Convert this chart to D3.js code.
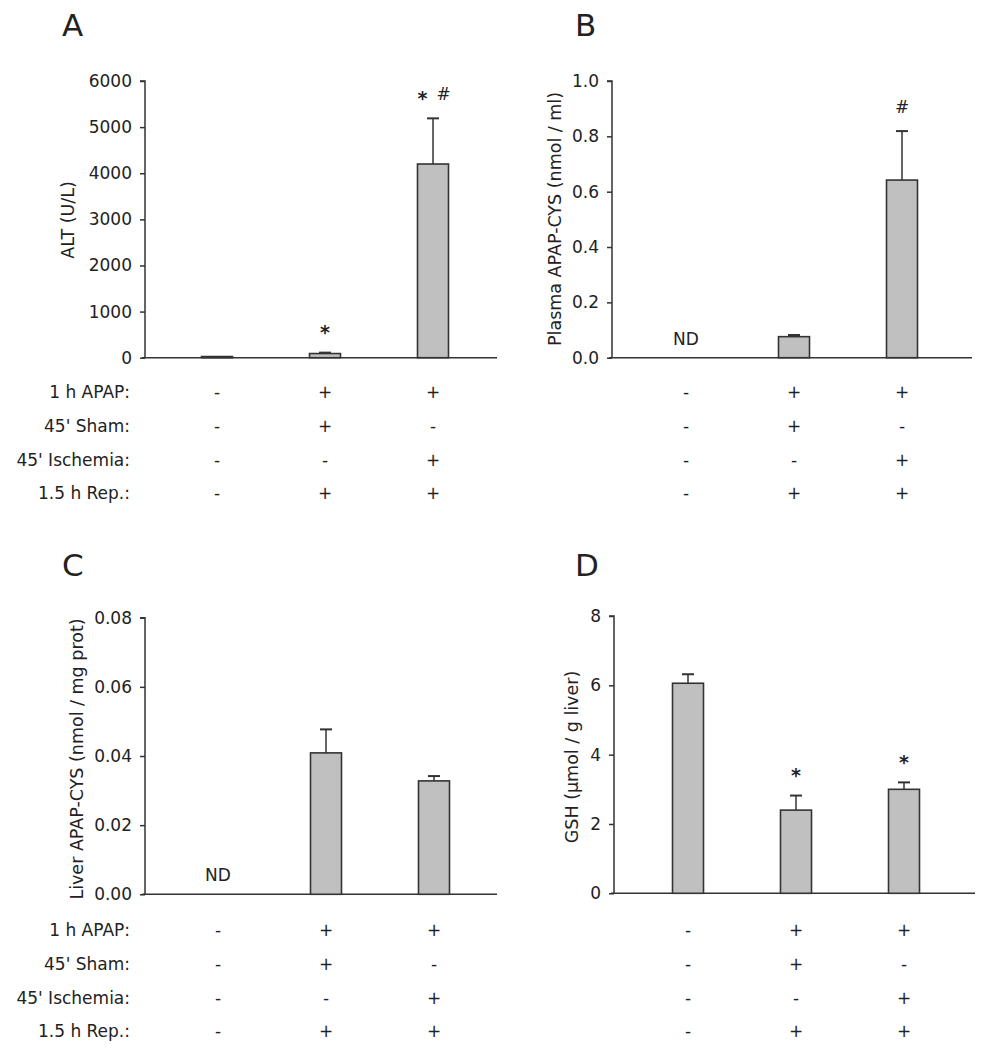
<!DOCTYPE html>
<html><head><meta charset="utf-8">
<script src="https://cdn.jsdelivr.net/npm/d3@7"></script>
<style>body{margin:0;background:#fff}svg{display:block}text{font-family:"DejaVu Sans",sans-serif;fill:#222}</style>
</head><body><svg id="c" width="991" height="1050"></svg>
<script>
const groups = ["Control", "APAP+Sham", "APAP+Ischemia"];
const rowLabels = ["1 h APAP:", "45' Sham:", "45' Ischemia:", "1.5 h Rep.:"];
const rowSigns = [["-","+","+"],["-","+","-"],["-","-","+"],["-","+","+"]];

const altMean = [25, 90, 4200];
const altSE = [0, 20, 990];
const altTicks = [0,1000,2000,3000,4000,5000,6000];
const altMarks = [[], ["*"], ["*","#"]];

const plasmaMean = [null, 0.076, 0.642];
const plasmaSE = [null, 0.006, 0.177];
const plasmaTicks = [0,0.2,0.4,0.6,0.8,1.0];
const plasmaMarks = [[], [], ["#"]];

const liverMean = [null, 0.0409, 0.0328];
const liverSE = [null, 0.0068, 0.0014];
const liverTicks = [0,0.02,0.04,0.06,0.08];
const liverMarks = [[], [], []];

const gshMean = [6.06, 2.40, 3.00];
const gshSE = [0.26, 0.42, 0.20];
const gshTicks = [0,2,4,6,8];
const gshMarks = [[], ["*"], ["*"]];

const svg = d3.select("#c");
const FS = 17;

function panel(o){
  const g = svg.append("g");
  const y = d3.scaleLinear().domain([0, o.ymax]).range([o.y0, o.y1]);
  const x = d3.scalePoint().domain(groups).range([o.cx0, o.cx0 + 216]);
  g.append("text").attr("x", o.lx).attr("y", o.ly).attr("font-size", 31).text(o.letter);
  const ax = g.append("g").attr("transform", `translate(${o.ax},0)`)
    .call(d3.axisLeft(y).tickValues(o.ticks).tickSize(5).tickPadding(8).tickFormat(d3.format(o.fmt)));
  ax.select(".domain").attr("stroke", "#333").attr("stroke-width", 1.5).attr("d", `M-5,${o.y1}H0V${o.y0}`);
  ax.selectAll(".tick line").attr("stroke", "#333").attr("stroke-width", 1.5);
  ax.selectAll(".tick text").attr("font-size", FS).attr("font-family", "DejaVu Sans").attr("fill", "#222");
  g.append("line").attr("x1", o.ax - 3).attr("x2", o.xend).attr("y1", o.y0).attr("y2", o.y0)
    .attr("stroke", "#333").attr("stroke-width", 1.5);
  g.append("text").attr("transform", `translate(${o.tx},${o.ty}) rotate(-90)`)
    .attr("text-anchor", "middle").attr("dominant-baseline", "central").attr("font-size", o.tfs).text(o.title);
  const bw = 31;
  o.mean.forEach((m, i) => {
    const cx = x(groups[i]);
    if (m === null) {
      g.append("text").attr("x", cx).attr("y", o.y0 - 13).attr("text-anchor", "middle")
        .attr("font-size", FS).text("ND");
      return;
    }
    const top = y(m);
    const et = y(m + o.se[i]);
    if (o.se[i] > 0) {
      g.append("line").attr("x1", cx).attr("x2", cx).attr("y1", top).attr("y2", et).attr("stroke", "#333").attr("stroke-width", 1.5);
      g.append("line").attr("x1", cx - 6).attr("x2", cx + 6).attr("y1", et).attr("y2", et).attr("stroke", "#333").attr("stroke-width", 2);
    }
    g.append("rect").attr("x", cx - bw/2).attr("y", top).attr("width", bw).attr("height", Math.max(o.y0 - top, 0.5))
      .attr("fill", "#c0c0c0").attr("stroke", "#333").attr("stroke-width", 1.6);
    const marks = o.marks[i];
    marks.forEach((s, k) => {
      const mx = cx + (k - (marks.length - 1) / 2) * 21;
      const cy = et - 24;
      const base = s === "*" ? cy + 0.55 * 19 : cy + 0.36 * FS;
      g.append("text").attr("x", mx).attr("y", base).attr("text-anchor", "middle")
        .attr("font-size", s === "*" ? 19 : FS).attr("font-weight", s === "*" ? "bold" : "normal").text(s);
    });
  });
  if (o.rows) {
    rowLabels.forEach((lab, r) => {
      const ry = o.rows[r];
      if (o.showLabels) {
        g.append("text").attr("x", 130).attr("y", ry).attr("text-anchor", "end")
          .attr("dominant-baseline", "central").attr("font-size", FS).text(lab);
      }
      rowSigns[r].forEach((s, i) => {
        g.append("text").attr("x", x(groups[i])).attr("y", ry).attr("text-anchor", "middle")
          .attr("dominant-baseline", "central").attr("font-size", FS).text(s);
      });
    });
  }
}

const rowsTop = [392, 426, 460, 493];
const rowsBot = [930, 964, 998, 1031];

panel({letter:"A", lx:62, ly:36, ax:145, xend:497, y0:357.7, y1:81, ymax:6000, ticks:altTicks, fmt:"d",
  cx0:217, mean:altMean, se:altSE, marks:altMarks, title:"ALT (U/L)", tx:68, ty:220, tfs:17.5,
  rows:rowsTop, showLabels:true});
panel({letter:"B", lx:575, ly:36, ax:612, xend:972, y0:357.7, y1:81, ymax:1.0, ticks:plasmaTicks, fmt:".1f",
  cx0:686, mean:plasmaMean, se:plasmaSE, marks:plasmaMarks, title:"Plasma APAP-CYS (nmol / ml)", tx:555, ty:219, tfs:17.5,
  rows:rowsTop, showLabels:false});
panel({letter:"C", lx:62, ly:576, ax:145, xend:497, y0:894.3, y1:617.7, ymax:0.08, ticks:liverTicks, fmt:".2f",
  cx0:218, mean:liverMean, se:liverSE, marks:liverMarks, title:"Liver APAP-CYS (nmol / mg prot)", tx:77, ty:759, tfs:17.5,
  rows:rowsBot, showLabels:true});
panel({letter:"D", lx:575, ly:576, ax:614, xend:975, y0:893.3, y1:616, ymax:8, ticks:gshTicks, fmt:"d",
  cx0:688, mean:gshMean, se:gshSE, marks:gshMarks, title:"GSH (µmol / g liver)", tx:572, ty:757, tfs:17.5,
  rows:rowsBot, showLabels:false});
</script></body></html>
